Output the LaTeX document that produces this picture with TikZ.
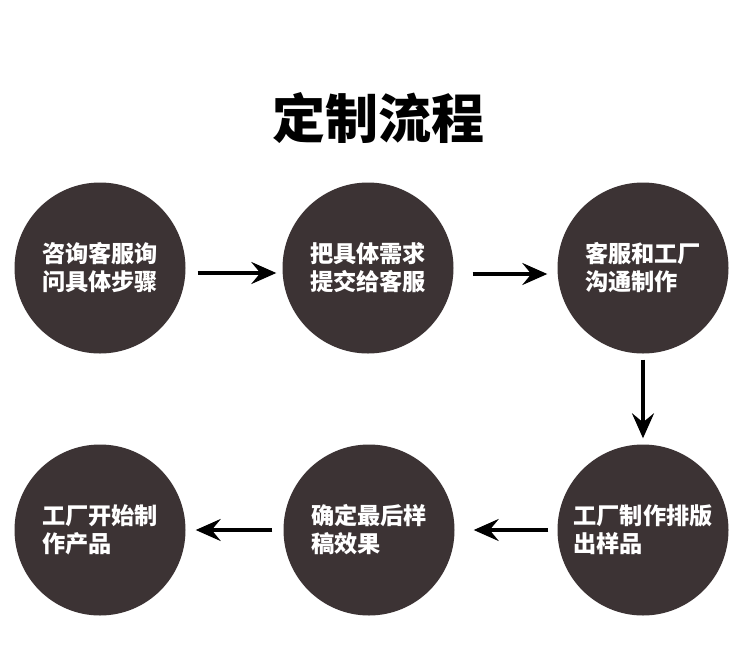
\documentclass[tikz,border=0pt]{standalone}
\usepackage{fontspec}
\setmainfont{Noto Sans CJK SC}
\usetikzlibrary{arrows.meta}
\definecolor{disc}{HTML}{3C3334}
\tikzset{
  stepdisc/.style={circle,fill=disc,minimum size=171pt,inner sep=0pt,text=white,
    align=left,font=\fontsize{23.2}{28}\selectfont\bfseries},
  flowarrow/.style={line width=3.5pt,-{Stealth[length=25pt,width=22pt,inset=9pt]}}
}
\begin{document}
\begin{tikzpicture}[x=1pt,y=-1pt]
\useasboundingbox[fill=white] (0,0) rectangle (750,662);
\node[font=\fontsize{53}{60}\selectfont\bfseries] (title) at (378,118) {定制流程};
\node[stepdisc] (c1) at (100,268) {咨询客服询\\问具体步骤};
\node[stepdisc] (c2) at (368,268) {把具体需求\\提交给客服};
\node[stepdisc] (c3) at (643,268) {客服和工厂\\沟通制作};
\node[stepdisc] (c6) at (643,530) {工厂制作排版\\出样品};
\node[stepdisc] (c5) at (369,530) {确定最后样\\稿效果};
\node[stepdisc] (c4) at (100,530) {工厂开始制\\作产品};
\draw[flowarrow,shorten <=12pt,shorten >=6pt] ([yshift=-5pt]c1.east) -- ([yshift=-5pt]c2.west);
\draw[flowarrow,shorten <=19pt,shorten >=10pt] ([yshift=-6pt]c2.east) -- ([yshift=-6pt]c3.west);
\draw[flowarrow,shorten <=6pt,shorten >=6pt] (c3.south) -- (c6.north);
\draw[flowarrow,shorten <=9pt,shorten >=19pt] (c6.west) -- (c5.east);
\draw[flowarrow,shorten <=11pt,shorten >=10pt] (c5.west) -- (c4.east);
\end{tikzpicture}
\end{document}
